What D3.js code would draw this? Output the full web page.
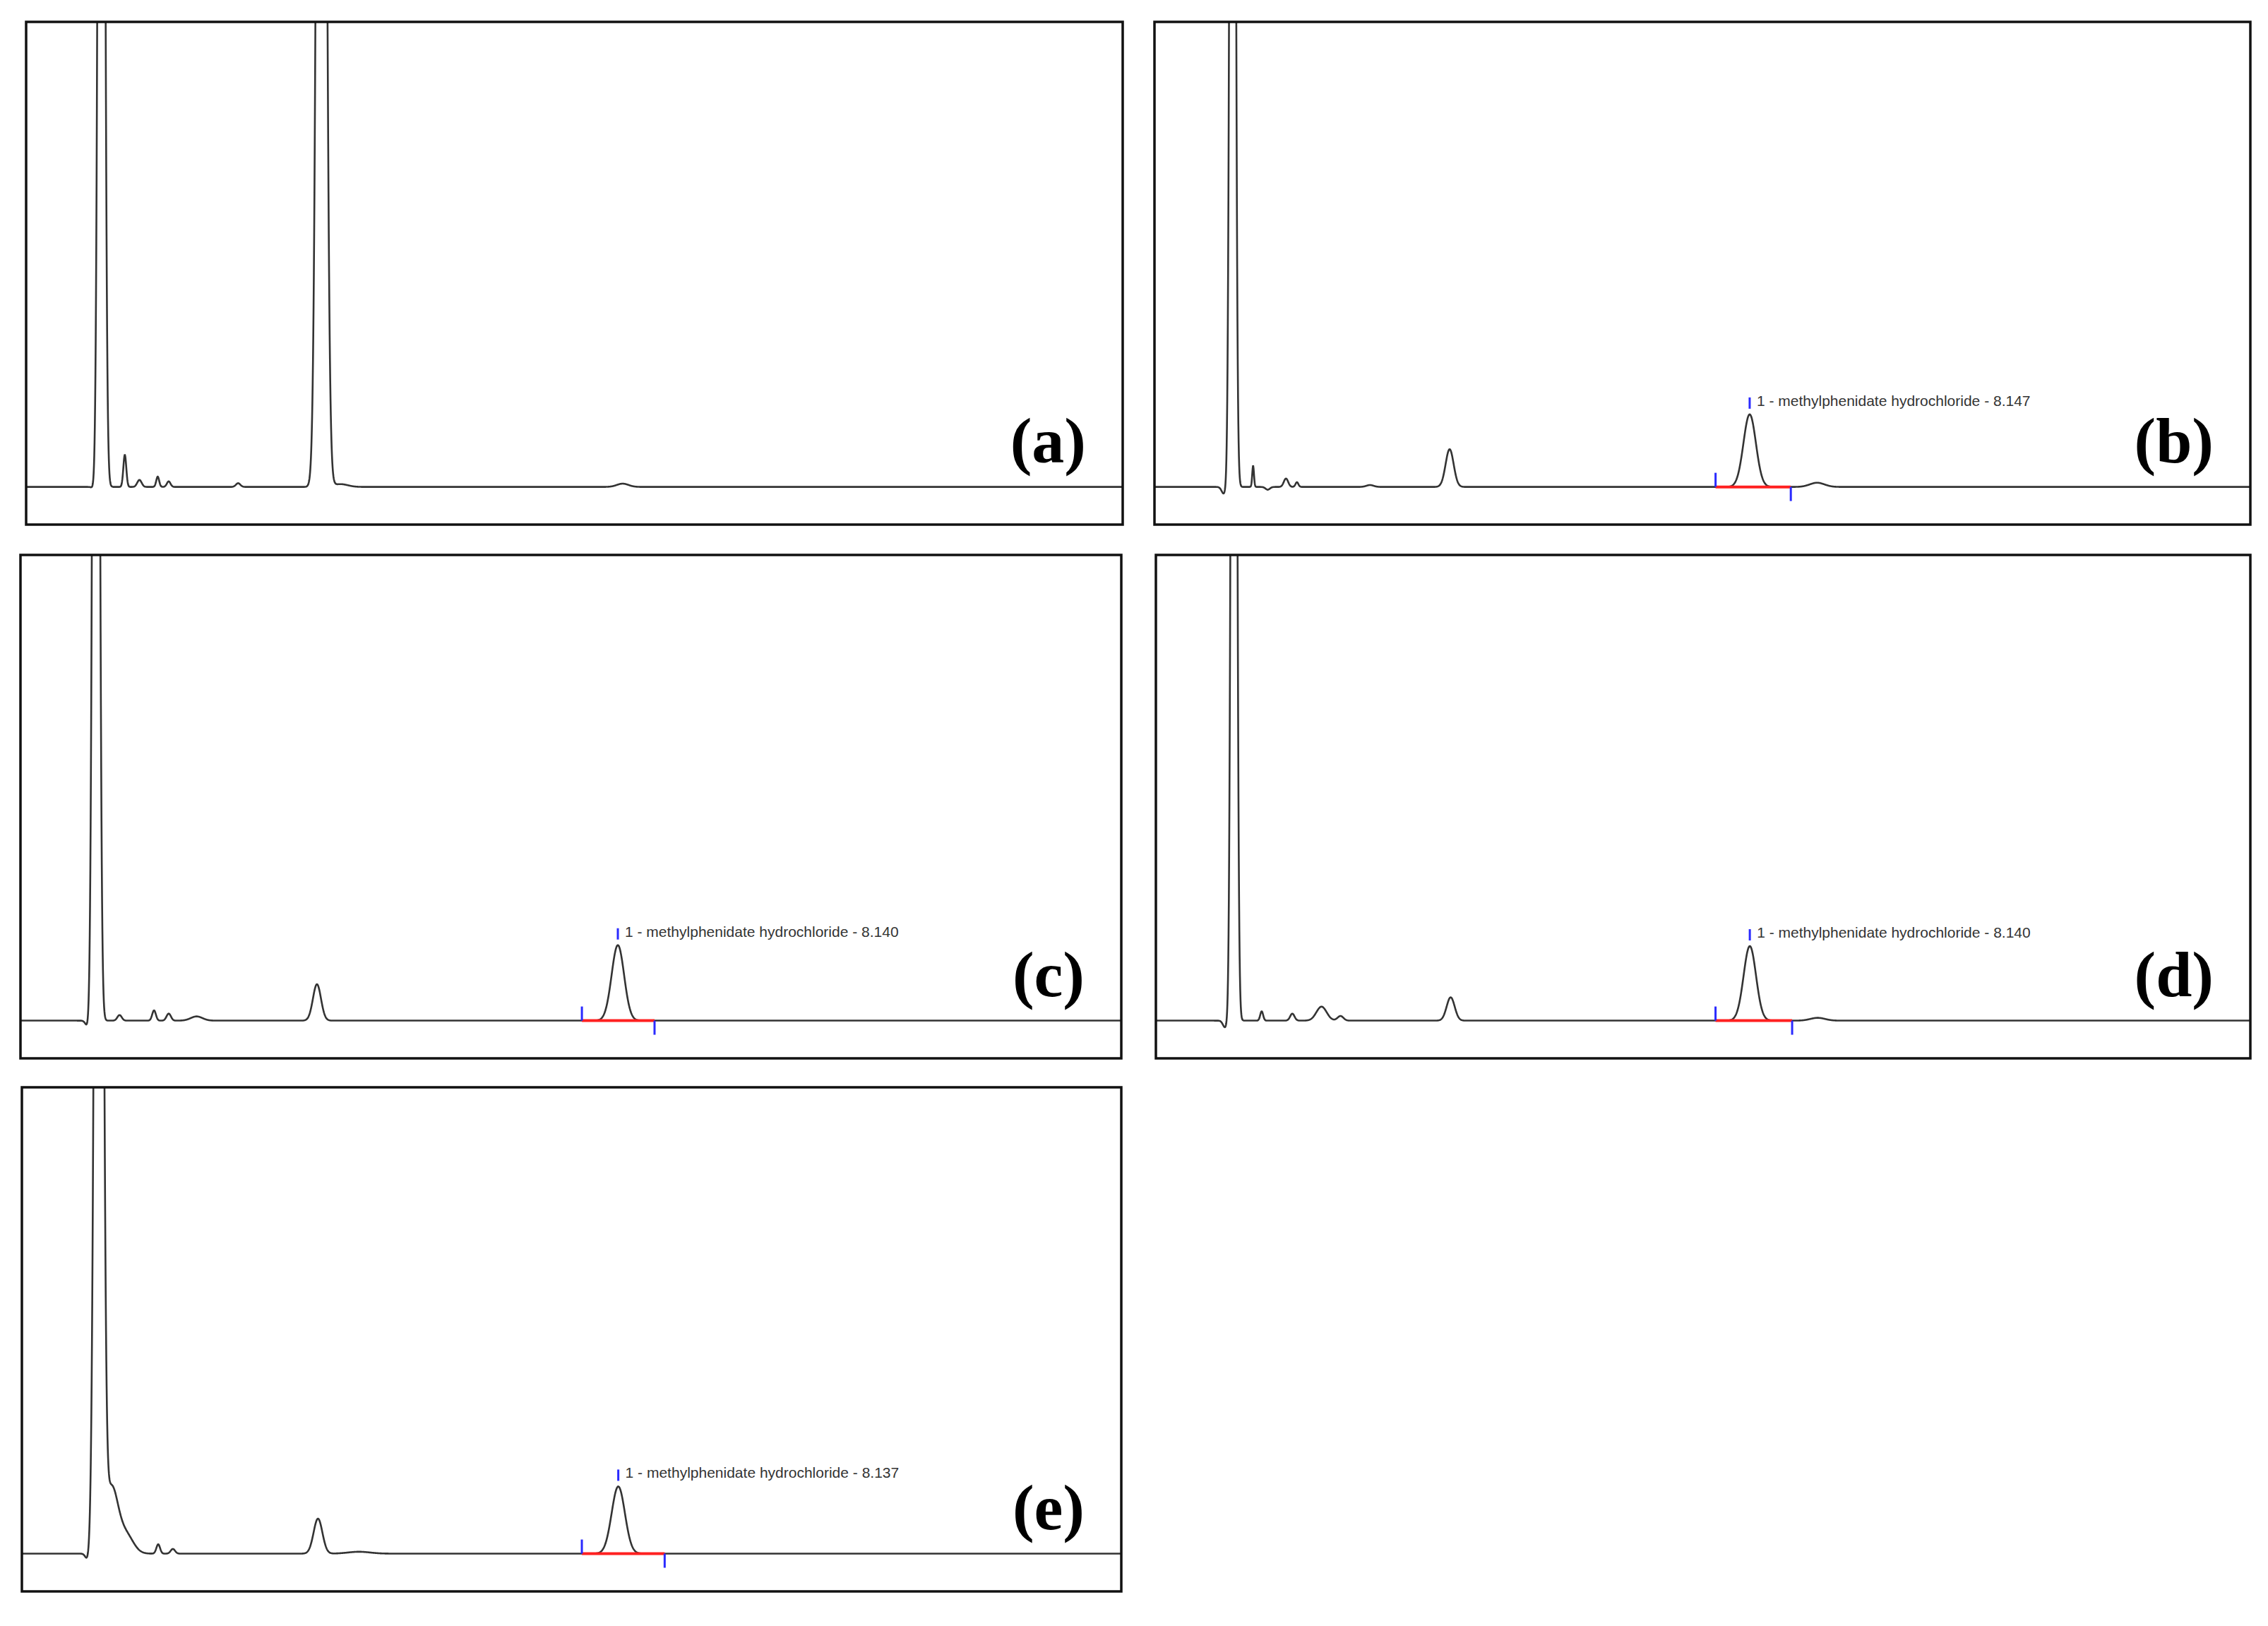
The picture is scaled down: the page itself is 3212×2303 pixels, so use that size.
<!DOCTYPE html>
<html>
<head>
<meta charset="utf-8">
<script src="https://cdn.jsdelivr.net/npm/d3@7"></script>
<style>
  body { margin: 0; background: #fff; }
</style>
</head>
<body>
<div id="app"></div>
<script>
// panel letters
const panelNames = ['a', 'b', 'c', 'd', 'e'];

// peak tables: [retention time (min), height, width (min)]
const peaksA = [[0.95, -1.5, 0.03], [1.03, 400, 0.035], [1.35, 6.9, 0.02], [1.55, 1.5, 0.03], [1.8, 2.2, 0.02], [1.95, 1.2, 0.025], [2.9, 0.8, 0.03], [4.04, 400, 0.05], [4.3, 0.6, 0.1], [8.16, 0.7, 0.08]];
const peaksB = [[0.95, -1.5, 0.03], [1.07, 400, 0.03], [1.35, 4.5, 0.012], [1.55, -0.6, 0.03], [1.8, 1.8, 0.03], [1.95, 1.0, 0.02], [2.95, 0.4, 0.05], [4.04, 8.1, 0.055], [8.147, 15.6, 0.085], [9.07, 0.9, 0.1]];
const peaksC = [[0.92, -1.5, 0.03], [1.03, 400, 0.035], [1.35, 1.2, 0.03], [1.82, 2.2, 0.025], [2.02, 1.5, 0.03], [2.4, 0.9, 0.08], [4.04, 7.8, 0.055], [8.14, 16.2, 0.085]];
const peaksD = [[0.95, -1.5, 0.03], [1.07, 400, 0.03], [1.45, 2.0, 0.02], [1.87, 1.5, 0.03], [2.27, 3.0, 0.07], [2.53, 1.0, 0.04], [4.04, 5.0, 0.055], [8.14, 16.0, 0.085], [9.07, 0.6, 0.1]];
const peaksE = [[0.9, -1.5, 0.03], [1.05, 400, 0.045], [1.22, 14, 0.09], [1.42, 4, 0.1], [1.86, 2.0, 0.025], [2.06, 1.0, 0.03], [4.04, 7.5, 0.06], [4.6, 0.4, 0.15], [8.137, 14.4, 0.09]];
const panelPeaks = [peaksA, peaksB, peaksC, peaksD, peaksE];

// integration marks: [start, apex, end] retention times, null where none
const integration = [null, [7.68, 8.147, 8.71], [7.65, 8.14, 8.64], [7.67, 8.14, 8.72], [7.64, 8.137, 8.77]];
const peakLabels = [null, '1 - methylphenidate hydrochloride - 8.147', '1 - methylphenidate hydrochloride - 8.140', '1 - methylphenidate hydrochloride - 8.140', '1 - methylphenidate hydrochloride - 8.137'];

// panel frames in page pixels
const frames = [
  { x: 37, y: 31, w: 1553, h: 712 },
  { x: 1635, y: 31, w: 1552, h: 712 },
  { x: 29, y: 786, w: 1559, h: 713 },
  { x: 1637, y: 786, w: 1550, h: 713 },
  { x: 31, y: 1540, w: 1557, h: 714 }
];

const timeSteps = d3.range(0, 15.0001, 0.004);

const svg = d3.select('#app').append('svg')
  .attr('width', 3212)
  .attr('height', 2303);

frames.forEach((f, i) => {
  const g = svg.append('g').attr('transform', `translate(${f.x},${f.y})`);

  const x = d3.scaleLinear().domain([0, 15]).range([0, f.w]);
  const y = d3.scaleLinear().domain([-8.1, 100]).range([f.h, 0]);

  g.append('clipPath').attr('id', 'clip' + i)
    .append('rect').attr('width', f.w).attr('height', f.h);

  const trace = timeSteps.map(t => {
    let v = 0;
    panelPeaks[i].forEach(([rt, h, s]) => { v += h * Math.exp(-0.5 * ((t - rt) / s) ** 2); });
    return [t, v];
  });

  g.append('path')
    .datum(trace)
    .attr('clip-path', `url(#clip${i})`)
    .attr('fill', 'none')
    .attr('stroke', '#333')
    .attr('stroke-width', 2.6)
    .attr('d', d3.line().x(d => x(d[0])).y(d => y(d[1])));

  const mark = integration[i];
  if (mark) {
    const [t0, ta, t1] = mark;
    g.append('line')
      .attr('x1', x(t0)).attr('x2', x(t1))
      .attr('y1', y(0)).attr('y2', y(0))
      .attr('stroke', '#ff2020').attr('stroke-width', 4);
    g.append('line')
      .attr('x1', x(t0)).attr('x2', x(t0))
      .attr('y1', y(0)).attr('y2', y(0) - 20)
      .attr('stroke', '#2a2aff').attr('stroke-width', 3);
    g.append('line')
      .attr('x1', x(t1)).attr('x2', x(t1))
      .attr('y1', y(0)).attr('y2', y(0) + 20)
      .attr('stroke', '#2a2aff').attr('stroke-width', 3);
    const apexY = y(d3.max(trace, d => Math.abs(d[0] - ta) < 0.2 ? d[1] : 0));
    g.append('line')
      .attr('x1', x(ta)).attr('x2', x(ta))
      .attr('y1', apexY - 8).attr('y2', apexY - 24)
      .attr('stroke', '#2a2aff').attr('stroke-width', 3);
    g.append('text')
      .attr('x', x(ta) + 10)
      .attr('y', apexY - 12)
      .style('font-family', 'Liberation Sans, Arial, sans-serif')
      .style('font-size', '21px')
      .attr('fill', '#333')
      .text(peakLabels[i]);
  }

  g.append('text')
    .attr('x', f.w - 52)
    .attr('y', f.h - 88)
    .attr('text-anchor', 'end')
    .style('font-family', 'Liberation Serif, Times New Roman, serif')
    .style('font-weight', 'bold')
    .style('font-size', '92px')
    .text(`(${panelNames[i]})`);

  g.append('rect')
    .attr('width', f.w).attr('height', f.h)
    .attr('fill', 'none')
    .attr('stroke', '#111')
    .attr('stroke-width', 3.5);
});
</script>
</body>
</html>
